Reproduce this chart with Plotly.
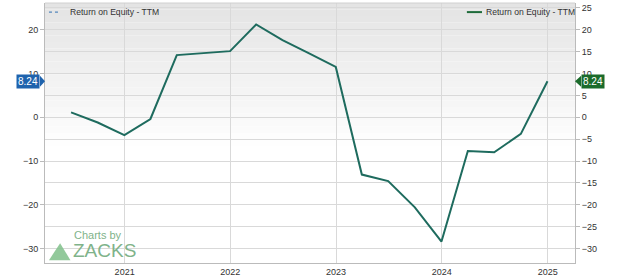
import plotly.graph_objects as go

dates = ["2020-06-30", "2020-09-30", "2020-12-31", "2021-03-31", "2021-06-30",
         "2021-09-30", "2021-12-31", "2022-03-31", "2022-06-30", "2022-09-30",
         "2022-12-31", "2023-03-31", "2023-06-30", "2023-09-30", "2023-12-31",
         "2024-03-31", "2024-06-30", "2024-09-30", "2024-12-31"]
roe = [1.1, -1.2, -4.1, -0.4, 14.2, 14.7, 15.1, 21.2, 17.6, 14.6, 11.5,
       -13.1, -14.6, -20.6, -28.4, -7.7, -8.0, -3.8, 8.24]
series_name = "Return on Equity - TTM"
left_ticks = [20, 10, 0, -10, -20, -30]
right_ticks = [25, 20, 15, 10, 5, 0, -5, -10, -15, -20, -25, -30]
year_ticks = ["2021-01-01", "2022-01-01", "2023-01-01", "2024-01-01", "2025-01-01"]
year_labels = ["2021", "2022", "2023", "2024", "2025"]

YR = [-33.3, 26.1]
XR = ["2020-04-01", "2025-04-05"]
FONT = "Liberation Sans, Arial, sans-serif"

fig = go.Figure()
fig.add_trace(go.Scatter(x=dates, y=roe, mode="lines", name=series_name,
                         line=dict(color="#1e6b5e", width=2), showlegend=False))
fig.add_trace(go.Scatter(x=[dates[0]], y=[roe[0]], yaxis="y2", mode="lines",
                         showlegend=False, line=dict(width=0), hoverinfo="skip"))

# gradient background
shapes = []
n = 40
for i in range(n):
    y0 = 1 - (i + 1) / n
    y1 = 1 - i / n
    t = min(i / (n * 0.55), 1.0)
    c = int(round(228 + (255 - 228) * t))
    shapes.append(dict(type="rect", xref="paper", yref="paper", x0=0, x1=1, y0=y0, y1=y1,
                       fillcolor=f"rgb({c},{c},{c})", line=dict(width=0), layer="below"))
# top border
shapes.append(dict(type="line", xref="paper", yref="paper", x0=0, x1=1, y0=1, y1=1,
                   line=dict(color="#d0d0d0", width=1)))

last = roe[-1]
# left value marker
shapes.append(dict(type="path", xref="paper", yref="y",
                   path=f"M -0.0095 {last+1.25} L 0 {last} L -0.0095 {last-1.25} Z",
                   fillcolor="#1f63ad", line=dict(width=0)))
# right value marker
shapes.append(dict(type="path", xref="paper", yref="y",
                   path=f"M 1.0115 {last+1.25} L 1.0 {last} L 1.0115 {last-1.25} Z",
                   fillcolor="#1b6b2b", line=dict(width=0)))
# logo triangle
shapes.append(dict(type="path", xref="paper", yref="paper",
                   path="M 0.0075 0.011 L 0.0285 0.076 L 0.048 0.011 Z",
                   fillcolor="#7fbf8a", line=dict(width=0), opacity=0.85))
# legend samples
shapes.append(dict(type="line", xref="paper", yref="paper", x0=0.0075, x1=0.029,
                   y0=0.965, y1=0.965, line=dict(color="#2f6fb3", width=1, dash="dot")))
shapes.append(dict(type="line", xref="paper", yref="paper", x0=0.796, x1=0.8245,
                   y0=0.965, y1=0.965, line=dict(color="#1e6b3a", width=2)))

annotations = [
    dict(xref="paper", yref="y", x=-0.0095, y=last, xanchor="right", yanchor="middle",
         text=str(last), showarrow=False, bgcolor="#1f63ad", borderpad=1,
         font=dict(color="white", size=10, family=FONT)),
    dict(xref="paper", yref="y", x=1.0115, y=last, xanchor="left", yanchor="middle",
         text=str(last), showarrow=False, bgcolor="#1b6b2b", borderpad=1,
         font=dict(color="white", size=10, family=FONT)),
    dict(xref="paper", yref="paper", x=0.051, y=0.077, xanchor="left", yanchor="bottom",
         text="Charts by", showarrow=False,
         font=dict(color="#7fb38a", size=11, family=FONT)),
    dict(xref="paper", yref="paper", x=0.049, y=0.0, xanchor="left", yanchor="bottom",
         text="ZACKS", showarrow=False,
         font=dict(color="#7fb38a", size=19, family=FONT)),
    dict(xref="paper", yref="paper", x=0.0425, y=0.965, xanchor="left", yanchor="middle",
         text=series_name, showarrow=False,
         font=dict(color="#333333", size=8.6, family=FONT)),
    dict(xref="paper", yref="paper", x=0.829, y=0.965, xanchor="left", yanchor="middle",
         text=series_name, showarrow=False,
         font=dict(color="#333333", size=8.6, family=FONT)),
]

fig.update_layout(
    width=620, height=280,
    margin=dict(l=45, r=45, t=3, b=13),
    paper_bgcolor="#ffffff",
    plot_bgcolor="rgba(0,0,0,0)",
    font=dict(family=FONT, size=9, color="#333333"),
    shapes=shapes,
    annotations=annotations,
    showlegend=False,
    xaxis=dict(range=XR, type="date", tickvals=year_ticks, ticktext=year_labels,
               showgrid=True, gridcolor="#d9d9d9", gridwidth=1,
               showline=True, linecolor="#bbbbbb", ticks="", ticklen=0,
               tickfont=dict(size=9, color="#333333"), zeroline=False),
    yaxis=dict(range=YR, tickvals=left_ticks, showgrid=True, gridcolor="#d9d9d9",
               showline=True, linecolor="#bbbbbb", ticks="outside", ticklen=4,
               tickcolor="#bbbbbb", zeroline=False, tickfont=dict(size=9, color="#333333")),
    yaxis2=dict(range=YR, tickvals=right_ticks, overlaying="y", side="right",
                showgrid=True, gridcolor="#d9d9d9", showline=True, linecolor="#bbbbbb",
                ticks="outside", ticklen=4, tickcolor="#bbbbbb", zeroline=False,
                tickfont=dict(size=9, color="#333333")),
)

fig.write_html("out.html")
